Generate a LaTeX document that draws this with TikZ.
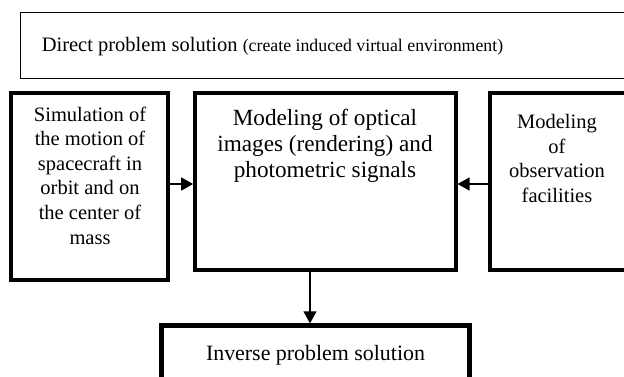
\documentclass[tikz,border=0pt]{standalone}
\usepackage{fontspec}
\setmainfont{Liberation Serif}
\usetikzlibrary{arrows.meta}

\tikzset{
  box/.style={draw, rectangle, inner sep=0pt, line width=3.7pt},
  thinbox/.style={draw, rectangle, inner sep=0pt, line width=1pt},
  heavybox/.style={draw, rectangle, inner sep=0pt, line width=4.7pt},
  txt/.style={inner sep=0pt, align=center, anchor=north},
  arr/.style={line width=1.3pt, -{Triangle[length=12pt,width=13pt]}}
}

\begin{document}
\begin{tikzpicture}[x=1pt,y=-1pt]
  \clip (0,0) rectangle (624,376);
  \fill[white] (0,0) rectangle (624,376);

  % frames
  \node[thinbox, minimum width=619.3pt, minimum height=66pt] (top) at (330.35,45.3) {};
  \node[box, minimum width=157pt, minimum height=187pt] (left) at (89.8,186.8) {};
  \node[box, minimum width=260.7pt, minimum height=176.4pt] (mid) at (325.35,181.5) {};
  \node[box, minimum width=170pt, minimum height=176.4pt] (right) at (575,181.5) {};
  \node[heavybox, minimum width=307.6pt, minimum height=74.3pt] (inv) at (315.5,362.85) {};

  % labels
  \node[inner sep=0pt, anchor=base, font=\fontsize{20.5}{24}\selectfont] (toptxt) at (272.5,51.7)
    {Direct problem solution {\fontsize{17.8}{22}\selectfont (create induced virtual environment)}};
  \node[txt, font=\fontsize{20.5}{24.6}\selectfont] (lefttxt) at (90,106.5)
    {Simulation of\\the motion of\\spacecraft in\\orbit and on\\the center of\\mass};
  \node[txt, font=\fontsize{23.2}{26.2}\selectfont] (midtxt) at (325,109)
    {Modeling of optical\\images (rendering) and\\photometric signals};
  \node[txt, font=\fontsize{20.5}{24.6}\selectfont] (righttxt) at (557,114)
    {Modeling\\of\\observation\\facilities};
  \node[inner sep=0pt, anchor=base, font=\fontsize{21.9}{26}\selectfont] (invtxt) at (315.5,360)
    {Inverse problem solution};

  % connectors
  \coordinate (row) at (0,184);
  \coordinate (col) at (310,0);
  \draw[arr] (left.east |- row) -- (mid.west |- row);
  \draw[arr] (right.west |- row) -- (mid.east |- row);
  \draw[arr] (mid.south -| col) -- (inv.north -| col);
\end{tikzpicture}
\end{document}
